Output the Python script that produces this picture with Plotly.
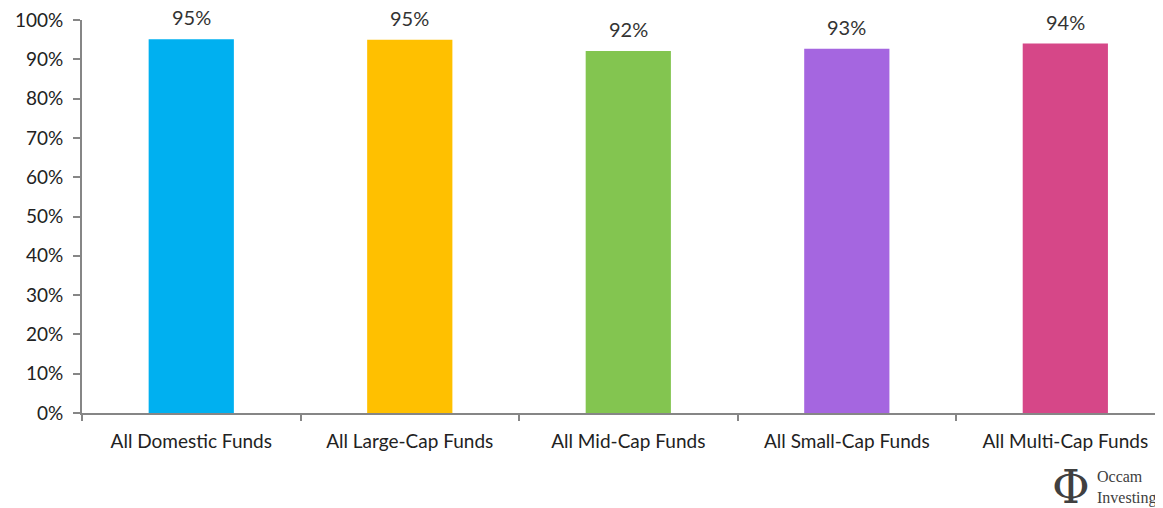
import plotly.graph_objects as go

categories = ["All Domestic Funds", "All Large-Cap Funds", "All Mid-Cap Funds",
              "All Small-Cap Funds", "All Multi-Cap Funds"]
values = [95.1, 95.0, 92.1, 92.7, 94.0]
labels = ["95%", "95%", "92%", "93%", "94%"]
colors = ["#00B0F0", "#FFC000", "#83C550", "#A566E0", "#D64788"]
yticks = list(range(0, 101, 10))
ytick_text = [f"{t}%" for t in yticks]

FONT = "Lato, Open Sans, sans-serif"
fig = go.Figure(go.Bar(
    x=categories, y=values, marker=dict(color=colors, line=dict(width=0)),
    width=0.39, cliponaxis=False, hoverinfo="x+y",
))

for c, v, t in zip(categories, values, labels):
    fig.add_annotation(x=c, y=v, text=t, showarrow=False, yanchor="bottom", yshift=8,
                       font=dict(size=20, color="#333333", family=FONT))

axis_col = "#868686"
# page body has an 8px margin, so the figure is shrunk by 8px on left/top
fig.update_layout(
    width=1155, height=500,
    margin=dict(l=74, r=0, t=12, b=95),
    plot_bgcolor="white", paper_bgcolor="white",
    showlegend=False,
    font=dict(family=FONT, size=18, color="#222222"),
    xaxis=dict(type="category", range=[-0.5, 4.447], showline=True, linecolor=axis_col,
               linewidth=2, ticks="outside", tickson="boundaries", ticklen=6,
               tickcolor=axis_col, tickwidth=2, showgrid=False, automargin=False,
               ticklabelstandoff=10, ticklabeloverflow="allow",
               tickfont=dict(size=19, color="#222222")),
    yaxis=dict(range=[0, 100], tickvals=yticks, ticktext=ytick_text, showline=True,
               linecolor=axis_col, linewidth=2, ticks="outside", ticklen=7,
               tickcolor=axis_col, tickwidth=2, showgrid=False, zeroline=False,
               automargin=False, ticklabelstandoff=6, ticklabeloverflow="allow",
               tickfont=dict(size=19, color="#222222")),
)

fig.add_annotation(xref="paper", yref="paper", x=(1071 - 82) / 1081, y=(413 - 487) / 393,
                   text="Φ", showarrow=False, xanchor="center", yanchor="middle",
                   font=dict(family="DejaVu Serif, serif", size=46, color="#404040"))
fig.add_annotation(xref="paper", yref="paper", x=(1095 - 82) / 1081, y=(413 - 487) / 393,
                   text="Occam<br>Investing", showarrow=False, align="left",
                   xanchor="left", yanchor="middle",
                   font=dict(family="Liberation Serif, serif", size=16, color="#404040"))

fig.write_html("out.html")
